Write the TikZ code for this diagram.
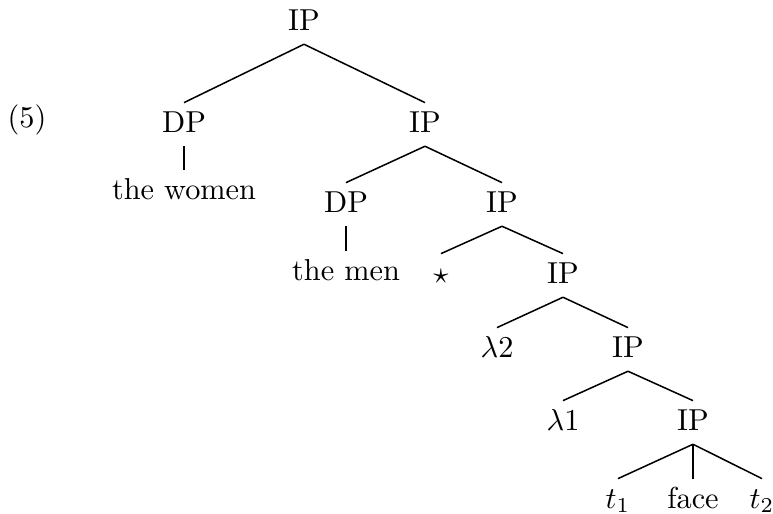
\documentclass[tikz,border=0pt]{standalone}
\begin{document}
\begin{tikzpicture}[x=0.33pt,y=-0.33pt,
  tn/.style={inner sep=2.5pt,text height=7pt,text depth=2pt,anchor=base},
  edge/.style={line width=0.5pt},
  stem/.style={line width=0.8pt}]
\useasboundingbox (0,0) rectangle (773,513);
\node[anchor=base] (ex) at (27,127) {(5)};
\node[tn] (ip1) at (304,30) {IP};
\node[tn] (dp1) at (184,132) {DP};
\node[tn] (ip2) at (425,132) {IP};
\node[tn] (women) at (184,199) {the women};
\node[tn] (dp2) at (346,212) {DP};
\node[tn] (ip3) at (502,212) {IP};
\node[tn] (men) at (346,280) {the men};
\node[tn] (star) at (441,283) {$\star$};
\node[tn] (ip4) at (563,283) {IP};
\node[tn] (lam2) at (497,357) {$\lambda 2$};
\node[tn] (ip5) at (628,357) {IP};
\node[tn] (lam1) at (563,430) {$\lambda 1$};
\node[tn] (ip6) at (693,430) {IP};
\node[tn] (t1) at (618,508) {$t_1$};
\node[tn] (face) at (693,508) {face};
\node[tn] (t2) at (762,508) {$t_2$};
\draw[edge] (ip1.south) -- (dp1.north);
\draw[edge] (ip1.south) -- (ip2.north);
\draw[stem] (dp1.south) -- (women.north);
\draw[edge] (ip2.south) -- (dp2.north);
\draw[edge] (ip2.south) -- (ip3.north);
\draw[stem] (dp2.south) -- (men.north);
\draw[edge] (ip3.south) -- (star.north);
\draw[edge] (ip3.south) -- (ip4.north);
\draw[edge] (ip4.south) -- (lam2.north);
\draw[edge] (ip4.south) -- (ip5.north);
\draw[edge] (ip5.south) -- (lam1.north);
\draw[edge] (ip5.south) -- (ip6.north);
\draw[edge] (ip6.south) -- (t1.north);
\draw[edge] (ip6.south) -- (face.north);
\draw[edge] (ip6.south) -- (t2.north);
\end{tikzpicture}
\end{document}
